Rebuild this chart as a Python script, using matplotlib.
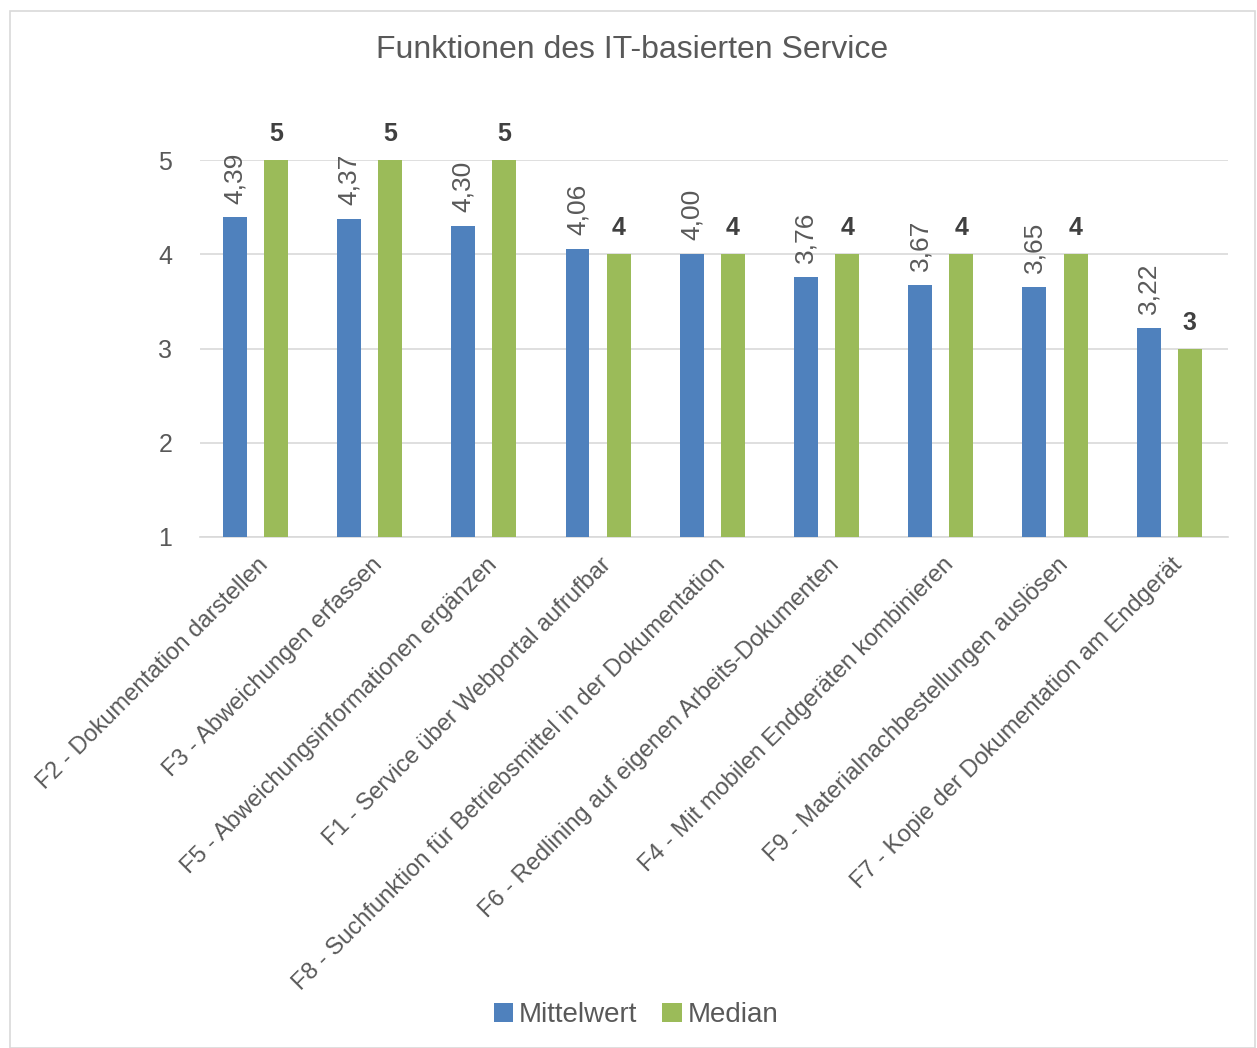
import matplotlib
matplotlib.use("Agg")
import matplotlib.pyplot as plt
from matplotlib.patches import Rectangle
import numpy as np

plt.rcParams['font.family'] = ['Liberation Sans', 'DejaVu Sans']

categories = [
    "F2 - Dokumentation darstellen",
    "F3 - Abweichungen erfassen",
    "F5 - Abweichungsinformationen ergänzen",
    "F1 - Service über Webportal aufrufbar",
    "F8 - Suchfunktion für Betriebsmittel in der Dokumentation",
    "F6 - Redlining auf eigenen Arbeits-Dokumenten",
    "F4 - Mit mobilen Endgeräten kombinieren",
    "F9 - Materialnachbestellungen auslösen",
    "F7 - Kopie der Dokumentation am Endgerät",
]
mittelwert = [4.39, 4.37, 4.30, 4.06, 4.00, 3.76, 3.67, 3.65, 3.22]
median = [5, 5, 5, 4, 4, 4, 4, 4, 3]
yticks = [1, 2, 3, 4, 5]

BLUE = "#4F81BD"
GREEN = "#9BBB59"
TXT = "#595959"

fig = plt.figure(figsize=(12.57, 10.48), dpi=100)
fig.patches.append(Rectangle((10/1257, 0), (1255-10)/1257, 1 - 11/1048,
                             transform=fig.transFigure, fill=False,
                             edgecolor="#d9d9d9", linewidth=1.2))

ax = fig.add_axes([200/1257, 1 - 537/1048, 1028/1257, (537-160)/1048])
x = np.arange(len(categories))
w = 0.21
off_b = -0.195
off_g = 0.165
b1 = ax.bar(x + off_b, mittelwert, width=w, color=BLUE, label="Mittelwert", zorder=3)
b2 = ax.bar(x + off_g, median, width=w, color=GREEN, label="Median", zorder=3)

ax.set_xlim(-0.5, len(categories) - 0.5)
ax.set_ylim(1, 5)
ax.set_yticks(yticks)
ax.set_yticklabels([str(t) for t in yticks], fontsize=18, color=TXT)
ax.grid(axis='y', color="#d9d9d9", linewidth=1.2, zorder=0)
ax.set_axisbelow(True)
for s in ['top', 'right', 'left']:
    ax.spines[s].set_visible(False)
ax.spines['bottom'].set_color("#d9d9d9")
ax.spines['bottom'].set_linewidth(1.2)
ax.tick_params(axis='both', length=0)
ax.tick_params(axis='y', pad=20)
ax.set_xticks(x)
ax.set_xticklabels(categories, rotation=45, ha='right', va='top',
                   rotation_mode='anchor', fontsize=17, color=TXT)
ax.tick_params(axis='x', pad=12)

for xi, v in zip(x, mittelwert):
    ax.annotate(f"{v:.2f}".replace('.', ','), (xi + off_b, v), xytext=(0, 10),
                textcoords='offset points', rotation=90, ha='center', va='bottom',
                fontsize=19, color=TXT, annotation_clip=False)
for xi, v in zip(x, median):
    ax.annotate(f"{v}", (xi + off_g, v), xytext=(0, 10),
                textcoords='offset points', ha='center', va='bottom',
                fontsize=18, fontweight='bold', color="#404040", annotation_clip=False)

fig.text(632/1257, 1 - 50/1048, "Funktionen des IT-basierten Service",
         ha='center', va='center', fontsize=23, color=TXT)

fig.legend(handles=[b1, b2], labels=["Mittelwert", "Median"], loc='center',
           bbox_to_anchor=(636/1257, 1 - 1015/1048), ncol=2, frameon=False,
           fontsize=20, labelcolor=TXT, handlelength=0.7, handleheight=0.7,
           handletextpad=0.2, columnspacing=0.9)

fig.savefig("out.png", dpi=100)
